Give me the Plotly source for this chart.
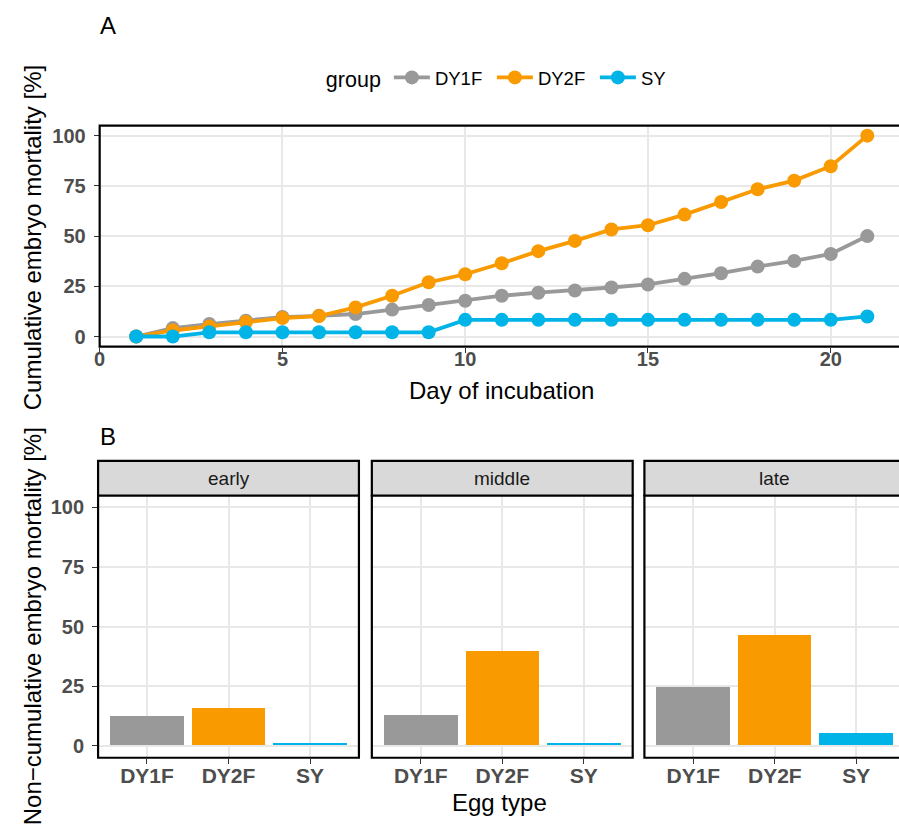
import plotly.graph_objects as go

# ---------------- data ----------------
days = list(range(1, 22))
groups = ["DY1F", "DY2F", "SY"]
dy1f_cum = [0, 4.2, 6.2, 7.9, 9.7, 10.3, 11.2, 13.4, 15.7, 17.8, 20.3, 21.8, 22.9, 24.4, 25.9, 28.7, 31.5, 34.8, 37.6, 41.1, 50.0]
dy2f_cum = [0, 3.0, 5.0, 7.2, 9.2, 10.2, 14.5, 20.3, 27.0, 31.0, 36.5, 42.5, 47.6, 53.3, 55.4, 60.7, 67.0, 73.3, 77.6, 84.8, 100.0]
sy_cum = [0, 0, 2.1, 2.1, 2.1, 2.1, 2.1, 2.1, 2.1, 8.3, 8.3, 8.3, 8.3, 8.3, 8.3, 8.3, 8.3, 8.3, 8.3, 8.3, 10.0]

stages = ["early", "middle", "late"]
egg_types = ["DY1F", "DY2F", "SY"]
early_vals = [12.5, 15.5, 1.0]
middle_vals = [12.8, 39.4, 1.0]
late_vals = [24.3, 46.4, 5.1]

y_ticks = [0, 25, 50, 75, 100]
x_ticks_a = [0, 5, 10, 15, 20]

colors = {"DY1F": "#999999", "DY2F": "#F89A00", "SY": "#00B4E8"}

# ---------------- helpers ----------------
W, H = 899, 824
def px(x):
    return x / W
def py(y):
    return 1 - y / H

FONT = "Liberation Sans, Arial, sans-serif"
TICKFONT = dict(family=FONT, size=20, color="#4D4D4D", weight="bold")
GRID = "#E8E8E8"

fig = go.Figure()

# Panel A lines
for name, vals in zip(groups, [dy1f_cum, dy2f_cum, sy_cum]):
    fig.add_trace(go.Scatter(
        x=days, y=vals, mode="lines+markers", name=name,
        line=dict(color=colors[name], width=3.8),
        marker=dict(color=colors[name], size=14),
        xaxis="x", yaxis="y",
    ))

# Panel B bars
for i, vals in enumerate([early_vals, middle_vals, late_vals]):
    ax = str(i + 2)
    fig.add_trace(go.Bar(
        x=egg_types, y=vals, width=0.9,
        marker=dict(color=[colors[g] for g in egg_types], line=dict(width=0)),
        showlegend=False, xaxis="x" + ax, yaxis="y" + ax,
    ))

# ---------------- geometry ----------------
a_left, a_top, a_bottom = 94.3, 124.9, 346.4
b_top, b_bottom = 495.7, 758.6
strip_top = 461
unit_a = 36.8
a_right_val = (W - a_left) / unit_a

b_panels = [(92.7, 355.3), (368.3, 630.9), (642.7, 905.3)]
cat_unit = (355.3 - 92.7) / 3.2

common_axis = dict(
    showgrid=True, gridcolor=GRID, gridwidth=1.5, zeroline=False, showline=False,
    ticks="outside", ticklen=5, tickwidth=1.3, tickcolor="#333333",
    tickfont=TICKFONT,
)

layout = dict(
    width=W, height=H, margin=dict(l=0, r=0, t=0, b=0),
    paper_bgcolor="white", plot_bgcolor="white",
    font=dict(family=FONT),
    bargap=0,
    xaxis=dict(domain=[px(a_left), 1], range=[0, a_right_val], tickvals=x_ticks_a,
               anchor="y", ticklabelstandoff=-11, **common_axis),
    yaxis=dict(domain=[py(a_bottom), py(a_top)], range=[-5, 105], tickvals=y_ticks,
               anchor="x", ticklabelstandoff=4, **common_axis),
    legend=dict(orientation="h", x=px(320), y=py(58), xanchor="left", yanchor="top",
                title=dict(text="group", font=dict(size=21.5, color="black", family=FONT), side="left"),
                font=dict(size=18.5, color="black", family=FONT),
                bgcolor="rgba(0,0,0,0)", entrywidth=52, itemwidth=36),
)

for i, (l, r) in enumerate(b_panels):
    ax = str(i + 2)
    right = min(r, W)
    rng_hi = -0.6 + (right - l) / cat_unit
    xa = dict(common_axis)
    xa.update(domain=[px(l), px(right)], range=[-0.6, rng_hi], type="category",
              categoryarray=egg_types, categoryorder="array", anchor="y" + ax,
              ticklabelstandoff=-6,
              tickfont=dict(family=FONT, size=21, color="#4D4D4D", weight="bold"))
    layout["xaxis" + ax] = xa
    ya = dict(common_axis)
    ya.update(domain=[py(b_bottom), py(b_top)], range=[-5, 105], tickvals=y_ticks,
              anchor="x" + ax, ticklabelstandoff=4)
    if i > 0:
        ya.update(showticklabels=False, ticks="", matches="y2")
    layout["yaxis" + ax] = ya

fig.update_layout(**layout)

# ---------------- shapes: panel borders & strips ----------------
shapes = []
BORDER = dict(color="black", width=2.2)
shapes.append(dict(type="rect", xref="paper", yref="paper",
                   x0=px(a_left), x1=px(a_left + 22 * unit_a), y0=py(a_bottom), y1=py(a_top),
                   line=BORDER, fillcolor="rgba(0,0,0,0)", layer="above"))
for (l, r) in b_panels:
    shapes.append(dict(type="rect", xref="paper", yref="paper",
                       x0=px(l), x1=px(r), y0=py(b_bottom), y1=py(b_top),
                       line=BORDER, fillcolor="rgba(0,0,0,0)", layer="above"))
    shapes.append(dict(type="rect", xref="paper", yref="paper",
                       x0=px(l), x1=px(r), y0=py(b_top), y1=py(strip_top),
                       line=BORDER, fillcolor="#D9D9D9", layer="above"))
fig.update_layout(shapes=shapes)

# ---------------- annotations ----------------
ann = []
for (l, r), s in zip(b_panels, stages):
    ann.append(dict(text=s, xref="paper", yref="paper", x=px((l + r) / 2),
                    y=py((strip_top + b_top) / 2), xanchor="center", yanchor="middle",
                    showarrow=False, font=dict(size=19, color="#1A1A1A", family=FONT)))
ann.append(dict(text="A", xref="paper", yref="paper", x=px(93), y=py(25), xanchor="left",
                yanchor="middle", showarrow=False, font=dict(size=24, color="black", family=FONT)))
ann.append(dict(text="B", xref="paper", yref="paper", x=px(93), y=py(437), xanchor="left",
                yanchor="middle", showarrow=False, font=dict(size=24, color="black", family=FONT)))
ann.append(dict(text="Day of incubation", xref="paper", yref="paper", x=px(499), y=py(390),
                xanchor="center", yanchor="middle", showarrow=False,
                font=dict(size=24, color="black", family=FONT)))
ann.append(dict(text="Egg type", xref="paper", yref="paper", x=px(497), y=py(803),
                xanchor="center", yanchor="middle", showarrow=False,
                font=dict(size=24, color="black", family=FONT)))
ann.append(dict(text="Cumulative embryo mortality [%]", xref="paper", yref="paper", x=px(27),
                y=py(237), xanchor="center", yanchor="middle", textangle=-90, showarrow=False,
                font=dict(size=24, color="black", family=FONT)))
ann.append(dict(text="Non\u2212cumulative embryo mortality [%]", xref="paper", yref="paper", x=px(27),
                y=py(627), xanchor="center", yanchor="middle", textangle=-90, showarrow=False,
                font=dict(size=24, color="black", family=FONT)))
fig.update_layout(annotations=ann)

fig.write_html("out.html", config={"displayModeBar": False},
               post_script="document.body.style.margin='0px';document.body.style.overflow='hidden';")
